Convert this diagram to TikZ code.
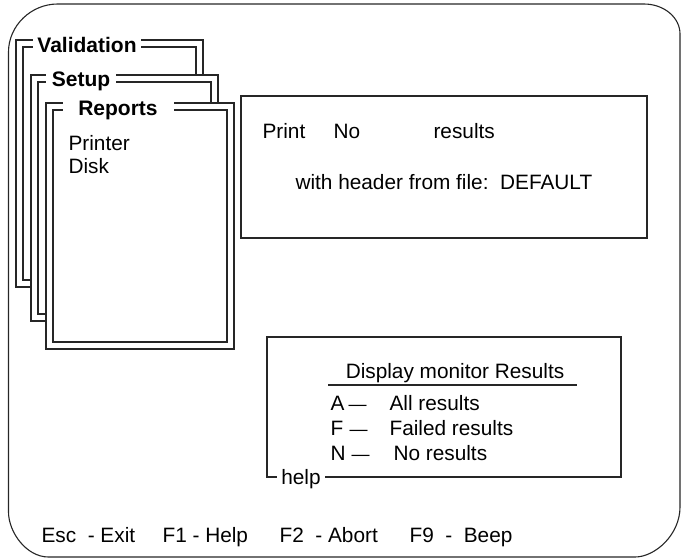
\documentclass[tikz,border=0pt]{standalone}
\usepackage{fontspec}
\setmainfont{Liberation Sans}
\begin{document}
\begin{tikzpicture}[x=1pt, y=-1pt,
  line width=1.1pt,
  outline/.style={draw=black!85, line width=1.1pt},
  winbox/.style={draw=black!85, line width=1.1pt, fill=white},
  wintitle/.style={font=\fontsize{21}{25}\selectfont\bfseries, fill=white,
    inner xsep=0pt, inner ysep=1pt, text height=15pt, text depth=4pt, anchor=base},
  label/.style={font=\fontsize{20.8}{25}\selectfont, inner sep=0pt, anchor=base west},
  dashmark/.style={font=\fontsize{18}{21}\selectfont, inner sep=0pt, anchor=base west}]
\useasboundingbox (0,0) rectangle (682,558);

% screen outline with rounded corners
\draw[outline] (8.5,52) .. controls (8.5,25.5) and (31.3,4) .. (57.5,4)
  -- (644,4) .. controls (663.9,4) and (680,17.4) .. (680,34)
  -- (680,507) .. controls (680,534.6) and (655.2,557) .. (635,557)
  -- (48.5,557) .. controls (26.4,557) and (8.5,532.2) .. (8.5,512) -- cycle;

% stacked double-framed menu windows, back to front
\newcommand{\menuwin}[4]{%
  \draw[winbox] (#1,#2) rectangle (#3,#4);
  \draw[outline] ({#1+7},{#2+7}) rectangle ({#3-7},{#4-7});}

\menuwin{16}{40}{203}{287}
\node[wintitle, minimum width=108pt] (validation) at (87,52) {Validation};

\menuwin{31}{75}{218}{321}
\node[wintitle, minimum width=70pt] (setup) at (81,86) {Setup};

\menuwin{46}{103}{234}{349}
\node[wintitle, minimum width=111pt] (reports) at (118,115) {Reports};
\node[label] (printer) at (68,150) {Printer};
\node[label] (disk) at (68,173) {Disk};

% print settings panel
\draw[outline] (241,96) rectangle (647,238);
\node[label] (print) at (262,138) {Print};
\node[label] (no) at (333,138) {No};
\node[label] (results) at (433,138) {results};
\node[label] (header) at (295,189) {with header from file:\ \ DEFAULT};

% help panel
\draw[outline] (267,337) rectangle (621,477);
\node[font=\fontsize{20.8}{25}\selectfont, fill=white, inner xsep=0pt, inner ysep=1pt,
  minimum width=48pt, anchor=base] (help) at (301,484) {help};
\node[font=\fontsize{20.8}{25}\selectfont, inner sep=0pt, anchor=base] (display) at (455,378)
  {Display monitor Results};
\coordinate (ulA) at (328,385);
\coordinate (ulB) at (577,385);
\draw[outline] (ulA) -- (ulB);

\node[label] (keyA) at (330,410) {A};
\node[dashmark] (dashA) at (348,410) {\textemdash};
\node[label] (optA) at (389,410) {All results};
\node[label] (keyF) at (330,435) {F};
\node[dashmark] (dashF) at (349,435) {\textemdash};
\node[label] (optF) at (389,435) {Failed results};
\node[label] (keyN) at (330,460) {N};
\node[dashmark] (dashN) at (351,460) {\textemdash};
\node[label] (optN) at (393,460) {No results};

% function key bar
\node[label] (esc) at (41,542) {Esc\ \ - Exit};
\node[label] (fone) at (162,542) {F1 - Help};
\node[label] (ftwo) at (279,542) {F2\ \ - Abort};
\node[label] (fnine) at (409,542) {F9\ \ -\ \ Beep};
\end{tikzpicture}
\end{document}
